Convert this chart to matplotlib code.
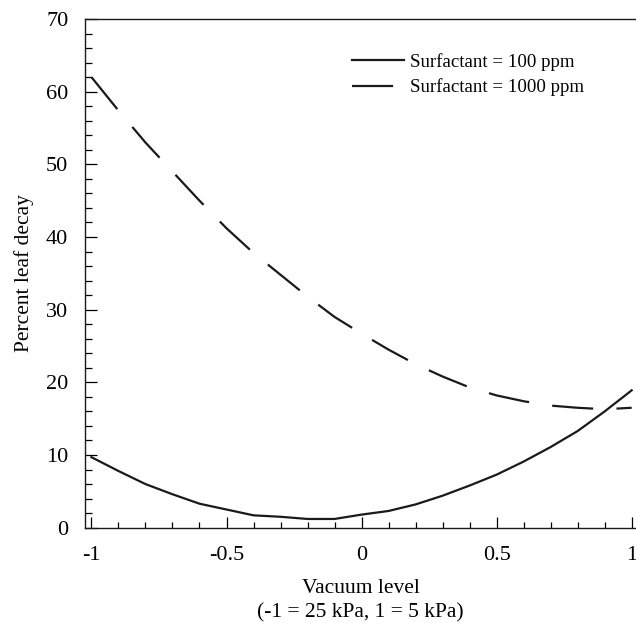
import matplotlib
matplotlib.use("Agg")
import matplotlib.pyplot as plt
from matplotlib.ticker import MultipleLocator

plt.rcParams["font.family"] = ["Liberation Serif", "DejaVu Serif"]
plt.rcParams["font.size"] = 15.5

vacuum = [-1.0, -0.9, -0.8, -0.7, -0.6, -0.5, -0.4, -0.3, -0.2, -0.1,
          0.0, 0.1, 0.2, 0.3, 0.4, 0.5, 0.6, 0.7, 0.8, 0.9, 1.0]
decay_100ppm = [9.7, 7.8, 6.0, 4.6, 3.3, 2.5, 1.7, 1.5, 1.2, 1.2,
                1.8, 2.3, 3.2, 4.4, 5.8, 7.3, 9.1, 11.1, 13.3, 16.0, 18.9]
decay_1000ppm = [62.0, 57.4, 53.0, 49.0, 45.0, 41.2, 37.8, 34.8, 31.8, 29.0,
                 26.7, 24.5, 22.5, 20.8, 19.3, 18.2, 17.4, 16.8, 16.5, 16.3, 16.5]

fig = plt.figure(figsize=(6.36, 6.23), dpi=100)
ax = fig.add_axes([0.1336, 0.153, 0.8664, 0.8165])

ax.plot(vacuum, decay_100ppm, color="#1a1a1a", lw=1.6, label="Surfactant = 100 ppm")
ax.plot(vacuum, decay_1000ppm, color="#1a1a1a", lw=1.6, dashes=(18.5, 10.5),
        label="Surfactant = 1000 ppm")

ax.set_xlim(-1.024, 1.016)
ax.set_ylim(0, 70)
ax.xaxis.set_major_locator(MultipleLocator(0.5))
ax.xaxis.set_minor_locator(MultipleLocator(0.1))
ax.yaxis.set_major_locator(MultipleLocator(10))
ax.yaxis.set_minor_locator(MultipleLocator(2))
ax.set_xticks([-1, -0.5, 0, 0.5, 1])
ax.set_xticklabels(["-1", "-0.5", "0", "0.5", "1"])

ax.tick_params(axis="both", which="major", labelsize=16)
ax.tick_params(axis="x", which="major", direction="in", length=8, width=0.9, pad=13)
ax.tick_params(axis="x", which="minor", direction="in", length=4, width=0.9)
ax.tick_params(axis="y", which="major", direction="in", length=8.5, width=0.9, pad=12)
ax.tick_params(axis="y", which="minor", direction="in", length=5, width=0.9)
ax.tick_params(top=False, right=False, which="both")

ax.spines["right"].set_visible(False)
for side in ("left", "bottom", "top"):
    ax.spines[side].set_linewidth(1.0)
    ax.spines[side].set_color("#1a1a1a")

ax.set_xlabel("Vacuum level\n(-1 = 25 kPa, 1 = 5 kPa)", labelpad=10, linespacing=1.4)
ax.set_ylabel("Percent leaf decay", labelpad=9)

ax.legend(loc="upper left", bbox_to_anchor=(0.5535, 0.915), bbox_transform=fig.transFigure,
          frameon=False, borderpad=0, borderaxespad=0, handlelength=2.75,
          handletextpad=0.3, labelspacing=0.4, fontsize=13.6)

fig.savefig("out.png", dpi=100)
